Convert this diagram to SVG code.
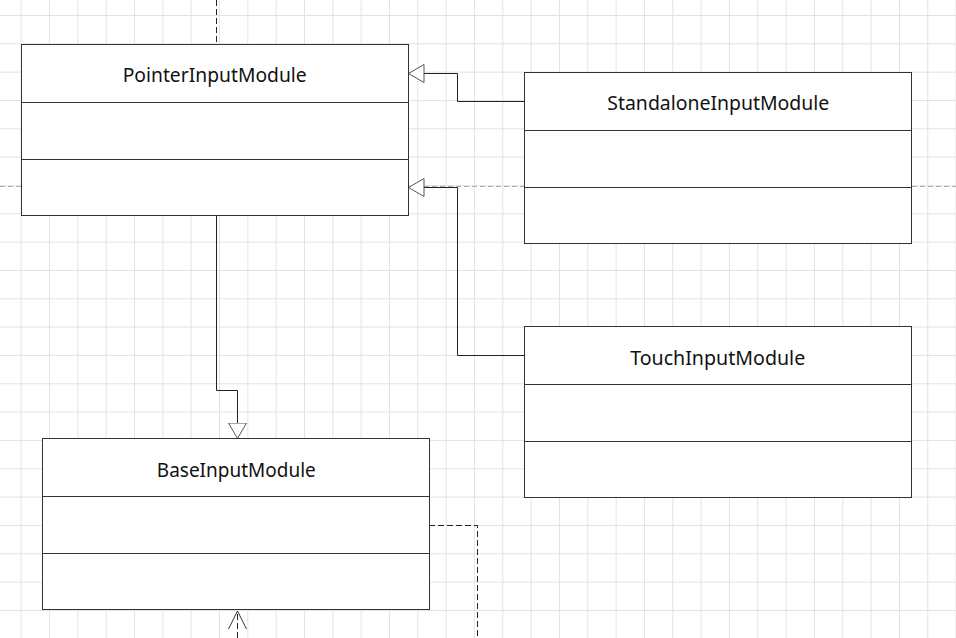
<svg xmlns="http://www.w3.org/2000/svg" width="956" height="638" viewBox="0 0 956 638">
  <defs>
    <pattern id="grid" patternUnits="userSpaceOnUse" x="20.7" y="15" width="28.33" height="28.33">
      <path d="M0.5,0 V28.33 M0,0.5 H28.33" fill="none" stroke="#e2e2e2" stroke-width="1"/>
    </pattern>
    <marker id="tri" markerUnits="userSpaceOnUse" viewBox="0 0 17 19" markerWidth="17" markerHeight="19" refX="16" refY="9.5" orient="auto">
      <path d="M0.5,0.5 L16,9.5 L0.5,18.5 Z" fill="#fff" stroke="#555" stroke-width="1"/>
    </marker>
    <marker id="open" markerUnits="userSpaceOnUse" viewBox="0 0 19 19" markerWidth="19" markerHeight="19" refX="18" refY="9.5" orient="auto">
      <path d="M0,0.5 L18,9.5 L0,18.5" fill="none" stroke="#333" stroke-width="1" stroke-dasharray="none"/>
    </marker>
  </defs>
  <style>
    .box { fill: #fff; stroke: #333; stroke-width: 1; }
    .div { stroke: #333; stroke-width: 1; }
    .lbl { font-family: "Noto Sans", "Open Sans", sans-serif; font-size: 20px; fill: #111; text-anchor: middle; }
    .edge { fill: none; stroke: #222; stroke-width: 1; }
    .dash { stroke-dasharray: 6 3; }
    .pb { stroke: #b0b0b0; stroke-width: 1; stroke-dasharray: 5 3; }
  </style>
  <rect x="0" y="0" width="956" height="638" fill="#fff"/>
  <rect x="0" y="0" width="956" height="638" fill="url(#grid)"/>
  <line class="pb" x1="0" y1="186.5" x2="956" y2="186.5"/>

  <g id="connectors">
    <path class="edge dash" d="M216.5,0 V44"/>
    <path class="edge" d="M524,101.5 H457.5 V73.5 H408.5" marker-end="url(#tri)"/>
    <path class="edge" d="M524,355.5 H457.5 V187.5 H408.5" marker-end="url(#tri)"/>
    <path class="edge" d="M216.5,216 V390.5 H237.5 V438.5" marker-end="url(#tri)"/>
    <path class="edge dash" d="M429,525.5 H477.5 V638"/>
    <path class="edge dash" d="M237.5,638 V611" marker-end="url(#open)"/>
  </g>

  <g id="PointerInputModule">
    <rect class="box" x="21.5" y="44.5" width="387" height="171"/>
    <line class="div" x1="21.5" y1="102.5" x2="408.5" y2="102.5"/>
    <line class="div" x1="21.5" y1="159.5" x2="408.5" y2="159.5"/>
    <text class="lbl" x="214.7" y="82" textLength="184" lengthAdjust="spacingAndGlyphs">PointerInputModule</text>
  </g>

  <g id="StandaloneInputModule">
    <rect class="box" x="524.5" y="72.5" width="387" height="171"/>
    <line class="div" x1="524.5" y1="130.5" x2="911.5" y2="130.5"/>
    <line class="div" x1="524.5" y1="187.5" x2="911.5" y2="187.5"/>
    <text class="lbl" x="718.3" y="110" textLength="222" lengthAdjust="spacingAndGlyphs">StandaloneInputModule</text>
  </g>

  <g id="TouchInputModule">
    <rect class="box" x="524.5" y="326.5" width="387" height="171"/>
    <line class="div" x1="524.5" y1="384.5" x2="911.5" y2="384.5"/>
    <line class="div" x1="524.5" y1="441.5" x2="911.5" y2="441.5"/>
    <text class="lbl" x="717.7" y="364.5" textLength="175" lengthAdjust="spacingAndGlyphs">TouchInputModule</text>
  </g>

  <g id="BaseInputModule">
    <rect class="box" x="42.5" y="438.5" width="387" height="171"/>
    <line class="div" x1="42.5" y1="496.5" x2="429.5" y2="496.5"/>
    <line class="div" x1="42.5" y1="553.5" x2="429.5" y2="553.5"/>
    <text class="lbl" x="236.3" y="476.5" textLength="159" lengthAdjust="spacingAndGlyphs">BaseInputModule</text>
  </g>
</svg>
